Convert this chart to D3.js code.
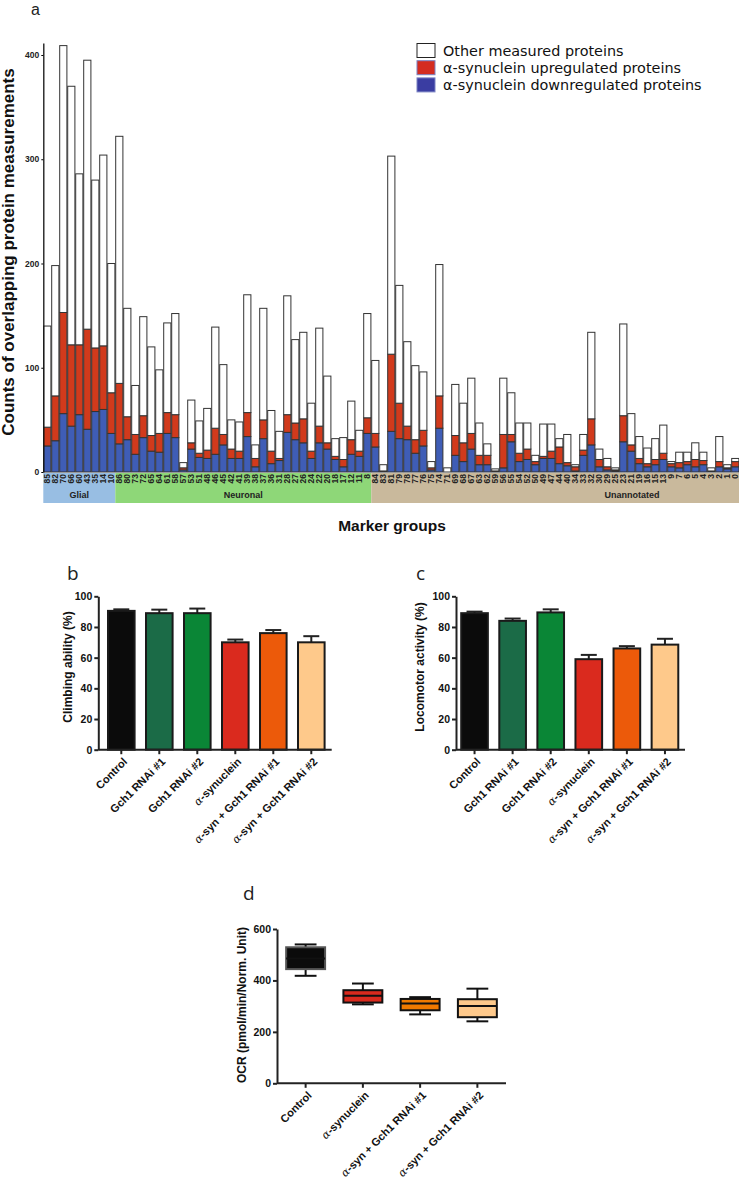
<!DOCTYPE html>
<html>
<head>
<meta charset="utf-8">
<script src="https://cdn.jsdelivr.net/npm/d3@7"></script>
<style>
body { margin: 0; background: #fff; }
svg { display: block; font-family: Arial, "Liberation Sans", sans-serif; }
</style>
</head>
<body>
<svg id="fig" width="739" height="1186"></svg>
<script>
// panel a: marker groups, order as on the axis
const markers = [85,82,70,66,60,43,35,14,10,
  86,80,73,72,65,64,61,58,57,53,51,48,46,45,42,41,39,38,37,36,31,28,27,26,24,22,20,18,17,12,11,8,
  84,83,81,79,78,77,76,75,74,71,69,68,67,63,62,59,56,55,54,52,50,49,47,44,40,34,33,32,30,29,25,23,21,19,16,15,13,9,7,6,5,4,3,2,1,0];
const groupNames = ["Glial", "Neuronal", "Unannotated"];
const groupSizes = [9, 32, 46];
const downReg = [25,30,56,44,55,41,58,60,37,
  27,31,17,33,20,19,37,33,2,22,14,13,17,26,13,13,34,5,32,8,11,38,31,28,13,28,22,12,5,17,15,37,
  24,0,39,32,31,18,25,2,42,0,16,10,22,7,7,0,4,29,10,12,7,13,13,8,6,1,16,26,5,2,1,29,20,8,5,7,12,5,4,7,5,7,1,5,3,5];
const upReg = [18,43,97,78,67,96,61,61,39,
  58,22,19,21,15,18,20,22,2,6,4,8,25,10,9,7,23,8,18,12,2,17,16,23,7,16,6,3,7,14,5,15,
  13,1,74,34,13,13,15,2,31,0,19,18,15,9,9,1,32,7,8,10,3,2,7,16,3,4,5,25,7,3,1,25,6,5,3,5,6,3,5,3,7,4,0,5,1,5];
const otherProt = [97,125,256,248,164,258,161,183,124,
  237,104,47,95,85,61,86,97,5,41,31,40,97,67,28,28,113,13,107,39,26,114,80,83,46,94,64,17,21,37,20,100,
  70,6,190,113,81,71,56,6,126,4,49,38,53,31,11,2,54,40,29,25,6,31,26,8,27,2,15,83,10,8,2,88,30,21,15,20,27,2,10,9,16,8,3,24,3,3];
const legendLabels = ["Other measured proteins", "α-synuclein upregulated proteins", "α-synuclein downregulated proteins"];
const countTicks = [0, 100, 200, 300, 400];

// panels b and c
const flyLabels = ["Control", "Gch1 RNAi #1", "Gch1 RNAi #2", "α-synuclein", "α-syn + Gch1 RNAi #1", "α-syn + Gch1 RNAi #2"];
const climbMean = [90.5, 89, 89, 70, 76, 70];
const climbErr = [1, 2.3, 3, 1.8, 2, 4];
const locoMean = [89, 84, 89.5, 59, 66, 68.5];
const locoErr = [1, 1.5, 2, 2.8, 1.5, 3.8];
const pctTicks = [0, 20, 40, 60, 80, 100];

// panel d
const ocrLabels = ["Control", "α-synuclein", "α-syn + Gch1 RNAi #1", "α-syn + Gch1 RNAi #2"];
const ocrMin = [418, 307, 268, 241];
const ocrQ1 = [444, 314, 284, 257];
const ocrMed = [485, 340, 310, 301];
const ocrQ3 = [529, 362, 328, 327];
const ocrMax = [540, 388, 335, 368];
const ocrTicks = [0, 200, 400, 600];

const fig = d3.select("#fig");

// ---------- panel a ----------
const stackCols = { down: "#3f5db6", up: "#d13a1c", other: "#ffffff" };
const rows = markers.map((m, i) => ({ m: String(m), down: downReg[i], up: upReg[i], other: otherProt[i] }));

const xa = d3.scaleBand().domain(rows.map(d => d.m)).range([43.3, 739.3]).paddingInner(0.1).paddingOuter(0.05);
const ya = d3.scaleLinear().domain([0, 411.5]).range([472, 43]);

const series = d3.stack().keys(["down", "up", "other"])(rows);
const ga = fig.append("g");
ga.selectAll("g.s").data(series).join("g").attr("class", "s")
  .attr("fill", s => stackCols[s.key])
  .selectAll("rect").data(s => s).join("rect")
  .attr("x", d => xa(d.data.m))
  .attr("width", xa.bandwidth())
  .attr("y", d => ya(d[1]))
  .attr("height", d => ya(d[0]) - ya(d[1]))
  .attr("stroke", "#333").attr("stroke-width", 1);

const axA = ga.append("g").attr("transform", "translate(43.3,0)")
  .call(d3.axisLeft(ya).tickValues(countTicks).tickSize(2).tickSizeOuter(0).tickPadding(2));
axA.select(".domain").attr("stroke", "#111").attr("stroke-width", 1.3);
axA.selectAll("text").attr("font-size", 8.5).attr("font-weight", "bold").attr("fill", "#222");

// group bands
const bandCols = ["#98bee3", "#8ed778", "#c9b99c"];
let start = 0;
groupSizes.forEach((n, gi) => {
  const x0 = xa(rows[start].m) - xa.step() * 0.05;
  const x1 = xa(rows[start + n - 1].m) + xa.bandwidth() + xa.step() * 0.05;
  ga.append("rect").attr("x", x0).attr("y", 473).attr("width", x1 - x0).attr("height", 30).attr("fill", bandCols[gi]);
  const cx = gi === 2 ? 632 : (x0 + x1) / 2;
  ga.append("text").attr("x", cx).attr("y", 498).attr("text-anchor", "middle")
    .attr("font-size", 9).attr("font-weight", "bold").attr("fill", "#222").text(groupNames[gi]);
  start += n;
});
ga.selectAll("text.mk").data(rows).join("text").attr("class", "mk")
  .attr("transform", d => `translate(${xa(d.m) + xa.bandwidth() / 2 + 3},474) rotate(-90)`)
  .attr("text-anchor", "end").attr("font-size", 8.5).attr("font-weight", "bold").attr("fill", "#222")
  .text(d => d.m);

ga.append("text").attr("x", 392).attr("y", 531).attr("text-anchor", "middle")
  .attr("font-size", 15.5).attr("font-weight", "bold").attr("fill", "#111").text("Marker groups");
ga.append("text").attr("transform", "translate(14,252) rotate(-90)").attr("text-anchor", "middle")
  .attr("font-size", 17).attr("font-weight", "bold").attr("fill", "#111")
  .text("Counts of overlapping protein measurements");
fig.append("text").attr("x", 31).attr("y", 15).attr("font-family", "Liberation Sans").attr("font-size", 16).attr("fill", "#222").text("a");

// legend
const legCols = ["#ffffff", "#d42c20", "#3a3da2"];
const leg = fig.append("g").attr("transform", "translate(417,43.5)");
legendLabels.forEach((t, i) => {
  leg.append("rect").attr("x", 0).attr("y", i * 17.2).attr("width", 18).attr("height", 14)
    .attr("fill", legCols[i]).attr("stroke", i === 0 ? "#222" : "#7b82c4").attr("stroke-width", 1);
  leg.append("text").attr("x", 26).attr("y", i * 17.2 + 12.3).attr("font-family", "DejaVu Sans")
    .attr("font-size", 14.4).attr("fill", "#111").text(t);
});

// ---------- helpers ----------
function labelText(sel, txt) {
  if (txt.startsWith("α")) {
    sel.append("tspan").attr("font-family", "DejaVu Serif").attr("font-style", "italic").attr("font-weight", "normal").text("α");
    sel.append("tspan").text(txt.slice(1));
  } else {
    sel.text(txt);
  }
}

function yAxisStyle(g) {
  g.select(".domain").attr("stroke", "#222").attr("stroke-width", 2);
  g.selectAll(".tick line").attr("stroke", "#222").attr("stroke-width", 2);
  g.selectAll("text").attr("font-size", 10.5).attr("font-weight", "bold").attr("fill", "#111");
}

function xLabels(g, xs, labels, y0) {
  labels.forEach(l => {
    const cx = xs(l) + xs.bandwidth() / 2;
    g.append("line").attr("x1", cx).attr("x2", cx).attr("y1", y0).attr("y2", y0 + 4.5).attr("stroke", "#222").attr("stroke-width", 2);
    const t = g.append("text").attr("transform", `translate(${cx + 4},${y0 + 10}) rotate(-45)`)
      .attr("text-anchor", "end").attr("dy", "0.35em").attr("font-size", 11).attr("font-weight", "bold").attr("fill", "#111");
    labelText(t, l);
  });
}

// ---------- panels b, c ----------
const barCols = ["#0b0b0b", "#1b6b47", "#0a8636", "#da2a1e", "#ec5a0a", "#fec98b"];

function barPanel(opt) {
  const g = fig.append("g");
  const y = d3.scaleLinear().domain([0, 100]).range([749.7, 596.3]);
  const x = d3.scaleBand().domain(flyLabels).range(opt.range).paddingInner(0.3).paddingOuter(0.15);
  const bw = x.bandwidth();
  g.selectAll("line.err").data(flyLabels).join("line").attr("class", "err")
    .attr("x1", d => x(d) + bw / 2).attr("x2", d => x(d) + bw / 2)
    .attr("y1", (d, i) => y(opt.mean[i])).attr("y2", (d, i) => y(opt.mean[i] + opt.err[i]))
    .attr("stroke", "#222").attr("stroke-width", 2);
  g.selectAll("line.cap").data(flyLabels).join("line").attr("class", "cap")
    .attr("x1", d => x(d) + bw * 0.2).attr("x2", d => x(d) + bw * 0.8)
    .attr("y1", (d, i) => y(opt.mean[i] + opt.err[i])).attr("y2", (d, i) => y(opt.mean[i] + opt.err[i]))
    .attr("stroke", "#222").attr("stroke-width", 2);
  g.selectAll("rect").data(flyLabels).join("rect")
    .attr("x", d => x(d)).attr("width", bw)
    .attr("y", (d, i) => y(opt.mean[i])).attr("height", (d, i) => y(0) - y(opt.mean[i]))
    .attr("fill", (d, i) => barCols[i]).attr("stroke", "#1a1a1a").attr("stroke-width", 2);
  g.append("g").attr("transform", `translate(${opt.axisX},0)`)
    .call(d3.axisLeft(y).tickValues(pctTicks).tickSize(4).tickSizeOuter(0).tickPadding(2)).call(yAxisStyle);
  g.append("line").attr("x1", opt.axisX).attr("x2", opt.xEnd).attr("y1", y(0)).attr("y2", y(0)).attr("stroke", "#222").attr("stroke-width", 2);
  xLabels(g, x, flyLabels, y(0));
  g.append("text").attr("transform", `translate(${opt.titleX},667) rotate(-90)`).attr("text-anchor", "middle")
    .attr("font-size", 12).attr("font-weight", "bold").attr("fill", "#111").text(opt.title);
  g.append("text").attr("x", opt.letterX).attr("y", 580).attr("font-family", "Open Sans").attr("font-size", 19).attr("fill", "#222").text(opt.letter);
}

barPanel({ mean: climbMean, err: climbErr, range: [102.3, 330.3], axisX: 98.3, xEnd: 331.7, title: "Climbing ability (%)", titleX: 72, letter: "b", letterX: 67 });
barPanel({ mean: locoMean, err: locoErr, range: [455.5, 684], axisX: 456, xEnd: 685, title: "Locomotor activity (%)", titleX: 424, letter: "c", letterX: 416 });

// ---------- panel d ----------
const ocrCols = ["#0b0b0b", "#da2a1e", "#f07a00", "#fec98b"];
(function () {
  const g = fig.append("g");
  const y = d3.scaleLinear().domain([0, 600]).range([1083.3, 929]);
  const x = d3.scaleBand().domain(ocrLabels).range([277, 506]).paddingInner(0.32).paddingOuter(0.16);
  const bw = x.bandwidth();
  ocrLabels.forEach((l, i) => {
    const cx = x(l) + bw / 2;
    g.append("line").attr("x1", cx).attr("x2", cx).attr("y1", y(ocrMin[i])).attr("y2", y(ocrMax[i])).attr("stroke", "#111").attr("stroke-width", 2);
    [ocrMin[i], ocrMax[i]].forEach(v => g.append("line").attr("x1", cx - bw * 0.28).attr("x2", cx + bw * 0.28)
      .attr("y1", y(v)).attr("y2", y(v)).attr("stroke", "#111").attr("stroke-width", 2));
    g.append("rect").attr("x", x(l)).attr("width", bw).attr("y", y(ocrQ3[i])).attr("height", y(ocrQ1[i]) - y(ocrQ3[i]))
      .attr("fill", ocrCols[i]).attr("stroke", i === 0 ? "#555" : "#111").attr("stroke-width", 2);
    g.append("line").attr("x1", x(l)).attr("x2", x(l) + bw).attr("y1", y(ocrMed[i])).attr("y2", y(ocrMed[i])).attr("stroke", "#111").attr("stroke-width", 2);
  });
  g.append("g").attr("transform", "translate(277,0)")
    .call(d3.axisLeft(y).tickValues(ocrTicks).tickSize(4).tickSizeOuter(0).tickPadding(2)).call(yAxisStyle);
  g.append("line").attr("x1", 277).attr("x2", 506).attr("y1", y(0)).attr("y2", y(0)).attr("stroke", "#222").attr("stroke-width", 2);
  xLabels(g, x, ocrLabels, y(0));
  g.append("text").attr("transform", "translate(246,1005) rotate(-90)").attr("text-anchor", "middle")
    .attr("font-size", 12).attr("font-weight", "bold").attr("fill", "#111").text("OCR (pmol/min/Norm. Unit)");
  g.append("text").attr("x", 243).attr("y", 900).attr("font-family", "Open Sans").attr("font-size", 19).attr("fill", "#222").text("d");
})();
</script>
</body>
</html>
